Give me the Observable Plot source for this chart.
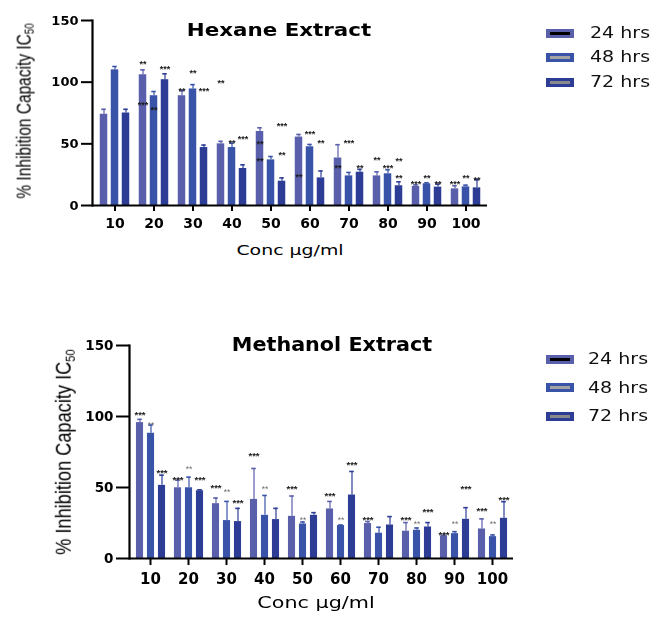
<!DOCTYPE html>
<html><head><meta charset="utf-8">
<script src="https://cdn.jsdelivr.net/npm/d3@7"></script>
<script src="https://cdn.jsdelivr.net/npm/@observablehq/plot@0.6"></script>
<style>
body{margin:0;background:#fff;}
#root{position:relative;width:652px;height:621px;overflow:hidden;font-family:"DejaVu Sans",sans-serif;color:#000}
.abs{position:absolute;white-space:nowrap;line-height:1}
.title{font-weight:bold}
.ytitle{font-family:"Liberation Sans",Arial,sans-serif}
.ytitle sub{font-size:0.62em;vertical-align:-0.25em}
.sw{position:absolute;width:28px;height:9px}
.sw i{position:absolute;left:4px;top:3px;width:20px;height:3px}
.lt{position:absolute;font-size:15px;line-height:1;transform:translateY(-50%) scaleX(1.27);transform-origin:0 50%;color:#111}
svg{position:absolute;left:0;overflow:visible;will-change:transform}
</style></head><body><div id="root"></div>
<script>
// ---------- data ----------
const conc = ["10","20","30","40","50","60","70","80","90","100"];
const series = ["24 hrs","48 hrs","72 hrs"];
const colors = ["#5a5fab","#3953a9","#2d3d95"];
const swatchInner = ["#000000","#a3a3a3","#8a8a8a"];
const yTicks = [0, 50, 100, 150];

// Hexane extract: means and SD
const hex24 = [74, 106, 89, 50, 60, 55.5, 38.5, 24, 15.5, 13.5];
const hex24sd = [4, 4, 4, 2, 3, 2.1, 10.8, 3.3, 1.2, 2.5];
const hex48 = [110, 89, 94.5, 47, 37, 47.6, 24, 25.7, 17.6, 15.1];
const hex48sd = [2.7, 3.4, 3.5, 3.5, 2.7, 1.9, 2.8, 3.3, 0.8, 1.4];
const hex72 = [75, 102, 47, 30, 19.7, 22.4, 27, 16, 14.9, 14.3];
const hex72sd = [3, 4.8, 2, 3, 2.7, 5.6, 2.3, 3.2, 2.4, 6.5];

// Hexane significance marks
const hexStarConc   = ["20","20","20","20","30","30","30","40","40","40","50","50","50","50","60","60","60","70","70","70","80","80","80","80","90","90","90","100","100","100"];
const hexStarSeries = ["24 hrs","24 hrs","48 hrs","72 hrs","24 hrs","48 hrs","72 hrs","24 hrs","48 hrs","72 hrs","24 hrs","24 hrs","72 hrs","72 hrs","24 hrs","48 hrs","72 hrs","24 hrs","48 hrs","72 hrs","24 hrs","48 hrs","72 hrs","72 hrs","24 hrs","48 hrs","72 hrs","24 hrs","48 hrs","72 hrs"];
const hexStarY      = [83.8, 117, 79.5, 113, 95, 109, 95, 101, 52.4, 56, 52, 38.4, 66.5, 42.7, 25, 60, 52.7, 32, 52.4, 32, 39, 32, 37.8, 24.6, 19, 24.6, 19.5, 19, 24.6, 22.7];
const hexStarLabel  = ["***","**","**","***","**","**","***","**","**","***","**","**","***","**","**","***","**","**","***","**","**","***","**","**","***","**","**","***","**","**"];

// Methanol extract: means and SD
const met24 = [95.7, 49.8, 38.6, 41.6, 29.7, 34.9, 24.6, 19.2, 15.9, 20.8];
const met24sd = [2.3, 5.4, 4, 21.8, 14.3, 5.3, 1.4, 6.1, 0.5, 7.1];
const met48 = [88.2, 49.8, 26.7, 30.4, 24.3, 23.2, 17.8, 19.9, 17.5, 15.4];
const met48sd = [5.8, 7.5, 13.5, 14, 1.4, 0.4, 4.2, 1.6, 1.4, 1.2];
const met72 = [51.5, 47.7, 26, 27.4, 30.4, 44.7, 23.6, 22.2, 27.6, 28.3];
const met72sd = [7.2, 0.7, 9.3, 7.9, 1.9, 16.6, 5.9, 3.1, 8.2, 11.7];

// Methanol significance marks
const metStarConc   = ["10","10","10","20","20","20","30","30","30","40","40","50","50","60","60","60","70","80","80","80","90","90","90","100","100","100"];
const metStarSeries = ["24 hrs","48 hrs","72 hrs","24 hrs","48 hrs","72 hrs","24 hrs","48 hrs","72 hrs","24 hrs","48 hrs","24 hrs","48 hrs","24 hrs","48 hrs","72 hrs","24 hrs","24 hrs","48 hrs","72 hrs","24 hrs","48 hrs","72 hrs","24 hrs","48 hrs","72 hrs"];
const metStarY      = [102.7, 95.7, 61.8, 57, 64.6, 57, 51.2, 48.2, 41.2, 74.2, 50.7, 51, 28.8, 45.8, 28.8, 67.6, 29, 29.2, 26.2, 34.4, 18, 26.2, 50.7, 34.9, 26.2, 43];
const metStarLabel  = ["***","**","***","***","**","***","***","**","***","***","**","***","**","***","**","***","***","***","**","***","***","**","***","***","**","***"];

// ---------- build ----------
function rowsOf(v24, s24, v48, s48, v72, s72) {
  const out = [];
  [[v24,s24],[v48,s48],[v72,s72]].forEach(([v,s],i) => {
    conc.forEach((c,j) => out.push({conc:c, series:series[i], value:v[j], sd:s[j]}));
  });
  return out;
}
function starsOf(cs, ss, ys, ls) {
  return cs.map((c,i) => ({conc:c, series:ss[i], y:ys[i], label:ls[i]}));
}

function panel(cfg) {
  const step = (cfg.right - cfg.left) / conc.length;
  const inset = (step - cfg.barW) / 2;
  const capInset = (step - 5) / 2;
  const marks = [];
  series.forEach((s, i) => {
    const r = cfg.rows.filter(d => d.series === s);
    marks.push(Plot.ruleX(r, {x:"conc", y1:"value", y2:d => d.value + d.sd, stroke:colors[i], strokeWidth:1.4, dx:cfg.offsets[i], strokeOpacity:0.85}));
    marks.push(Plot.tickY(r, {x:"conc", y:d => d.value + d.sd, stroke:colors[i], strokeWidth:1.6, dx:cfg.offsets[i], insetLeft:capInset, insetRight:capInset}));
    marks.push(Plot.barY(r, {x:"conc", y:"value", fill:colors[i], dx:cfg.offsets[i], insetLeft:inset, insetRight:inset}));
  });
  series.forEach((s, i) => {
    ["***","**"].forEach(lab => {
      const st = cfg.stars.filter(d => d.series === s && d.label === lab);
      const light = cfg.lightDouble && lab === "**";
      marks.push(Plot.text(st, {x:"conc", y:"y", text:"label", dx:cfg.offsets[i], dy:2.5,
        fontSize:light ? cfg.starSize - 1 : cfg.starSize, fontFamily:"Liberation Sans",
        fontWeight:light ? "normal" : "bold",
        fill:light ? "#707070" : "#1a1a1a"}));
    });
  });
  marks.push(Plot.ruleY([0], {stroke:"#000", strokeWidth:2.2}));
  marks.push(Plot.frame({anchor:"left", stroke:"#000", strokeWidth:2.2}));
  marks.push(Plot.axisY({ticks:yTicks, tickSize:cfg.yTickSize, tickPadding:3, fontSize:cfg.yFont, fontWeight:"bold", label:null, strokeWidth:2, fill:"#000", stroke:"#000"}));
  marks.push(Plot.axisX({tickSize:cfg.xTickSize, tickPadding:cfg.xTickPad, fontSize:cfg.xFont, fontWeight:"bold", label:null, strokeWidth:2, fill:"#000", stroke:"#000"}));
  const svg = Plot.plot({
    width:652, height:cfg.height,
    marginLeft:cfg.left, marginRight:652 - cfg.right,
    marginTop:cfg.top, marginBottom:cfg.height - cfg.bottom,
    x:{domain:conc, padding:0, axis:null},
    y:{domain:[0,150], axis:null},
    style:{fontFamily:"DejaVu Sans", color:"#000", background:"transparent", overflow:"visible"},
    marks
  });
  svg.style.top = cfg.svgTop + "px";
  return svg;
}

const root = document.getElementById("root");
function addHTML(html) { root.insertAdjacentHTML("beforeend", html); }

// Top panel
root.appendChild(panel({
  rows: rowsOf(hex24, hex24sd, hex48, hex48sd, hex72, hex72sd),
  stars: starsOf(hexStarConc, hexStarSeries, hexStarY, hexStarLabel),
  svgTop:0, height:240, left:92, right:487, top:20, bottom:205,
  barW:8, offsets:[-11,0,11], starSize:9, lightDouble:false,
  yFont:13, yTickSize:11, xFont:14, xTickSize:6, xTickPad:7
}));
// Bottom panel
root.appendChild(panel({
  rows: rowsOf(met24, met24sd, met48, met48sd, met72, met72sd),
  stars: starsOf(metStarConc, metStarSeries, metStarY, metStarLabel),
  svgTop:330, height:291, left:129, right:513, top:15, bottom:228,
  barW:7.5, offsets:[-10.5,0.5,11.5], starSize:9.5, lightDouble:true,
  yFont:13.5, yTickSize:13, xFont:15, xTickSize:7, xTickPad:8
}));

// Titles and axis titles
function centered(text, cx, cy, size, sx, cls) {
  addHTML(`<div class="abs ${cls||""}" style="left:${cx}px;top:${cy}px;font-size:${size}px;transform:translate(-50%,-50%) scaleX(${sx})">${text}</div>`);
}
centered("Hexane Extract", 279, 30, 18.3, 1.17, "title");
centered("Methanol Extract", 332, 344, 19, 1.09, "title");
centered("Conc μg/ml", 290, 250, 14, 1.35);
centered("Conc μg/ml", 316, 603, 15, 1.38);
addHTML(`<div class="abs ytitle" style="left:25px;top:111px;font-size:15.5px;transform:translate(-50%,-50%) rotate(-90deg) scaleY(1.3)">% Inhibition Capacity IC<sub>50</sub></div>`);
addHTML(`<div class="abs ytitle" style="left:65px;top:452px;font-size:18.2px;transform:translate(-50%,-50%) rotate(-90deg) scaleY(1.2)">% Inhibition Capacity IC<sub>50</sub></div>`);

// Legends
function legend(rowsY, textX) {
  series.forEach((s, i) => {
    addHTML(`<div class="sw" style="left:546px;top:${rowsY[i]-4.5}px;background:${colors[i]}"><i style="background:${swatchInner[i]}"></i></div>`);
    addHTML(`<div class="lt" style="left:${textX}px;top:${rowsY[i]}px">${s}</div>`);
  });
}
legend([33.3, 57.3, 82.3], 590);
legend([359.3, 387.7, 416], 588);
</script>
</body></html>
